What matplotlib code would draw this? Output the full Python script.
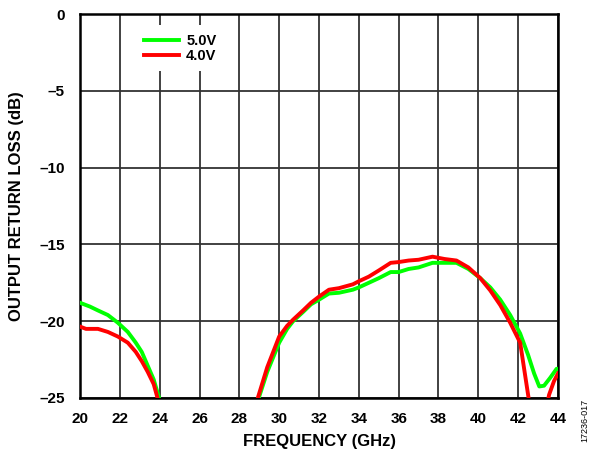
import matplotlib.pyplot as plt
import numpy as np

plt.rcParams['font.family'] = ['Liberation Sans', 'DejaVu Sans']
plt.rcParams['font.weight'] = 'bold'

# output return loss, 5.0 V supply
f_5v = [20.0, 20.5, 20.9, 21.4, 21.9, 22.4, 22.8, 23.1, 23.4, 23.7, 23.95, 24.3,
        28.7, 29.0, 29.4, 30.0, 30.4, 30.7, 31.2, 31.6, 32.0, 32.5, 33.0, 33.7,
        34.0, 34.5, 35.0, 35.6, 36.0, 36.5, 37.0, 37.7, 38.3, 38.9, 39.5, 40.1,
        40.6, 41.1, 41.6, 42.1, 42.5, 42.8, 43.06, 43.3, 43.6, 43.93, 44.0]
rl_5v = [-18.8, -19.05, -19.3, -19.6, -20.1, -20.7, -21.4, -22.0, -22.9, -23.8, -24.9, -26.5,
         -26.5, -24.9, -23.3, -21.4, -20.5, -20.0, -19.4, -18.9, -18.6, -18.2, -18.15, -17.95,
         -17.8, -17.5, -17.2, -16.8, -16.8, -16.6, -16.5, -16.2, -16.2, -16.2, -16.6, -17.2,
         -17.8, -18.6, -19.6, -20.8, -22.2, -23.4, -24.25, -24.2, -23.7, -23.1, -23.1]

# output return loss, 4.0 V supply
f_4v = [20.0, 20.3, 20.9, 21.4, 21.9, 22.4, 22.8, 23.1, 23.4, 23.7, 23.85, 24.2,
        28.6, 28.95, 29.4, 30.0, 30.4, 30.7, 31.2, 31.6, 32.0, 32.5, 33.0, 33.7,
        34.0, 34.5, 35.0, 35.6, 36.0, 36.5, 37.0, 37.7, 38.3, 38.9, 39.5, 40.1,
        40.6, 41.1, 41.6, 42.1, 42.5, 42.7, 43.0, 43.3, 43.55, 43.8, 44.0]
rl_4v = [-20.35, -20.5, -20.5, -20.7, -21.0, -21.4, -22.0, -22.6, -23.3, -24.1, -24.8, -26.5,
         -26.5, -24.9, -23.0, -21.0, -20.3, -19.9, -19.3, -18.8, -18.4, -17.95, -17.85, -17.6,
         -17.4, -17.1, -16.7, -16.2, -16.15, -16.05, -16.0, -15.8, -15.95, -16.05, -16.5, -17.2,
         -18.0, -18.95, -20.1, -21.4, -24.8, -26.5, -27.5, -26.5, -24.8, -23.9, -23.4]

fig = plt.figure(figsize=(5.98, 4.55), dpi=100)
ax = fig.add_axes((0.1338, 0.1253, 0.7993, 0.8439))

ax.plot(f_5v, rl_5v, color='#00ff00', lw=2.8, label='5.0V', zorder=3)
ax.plot(f_4v, rl_4v, color='#ff0000', lw=2.8, label='4.0V', zorder=3)

ax.set_xlim(20, 44)
ax.set_ylim(-25, 0)
ax.set_xticks(np.arange(20, 45, 2))
ax.set_yticks(np.arange(-25, 1, 5))
ax.set_yticklabels(['\u201325', '\u201320', '\u201315', '\u201310', '\u20135', '0'])
ax.grid(True, color='#333333', lw=1.3)
ax.tick_params(length=0, labelsize=11)
ax.tick_params(axis='x', pad=10)
ax.tick_params(axis='y', pad=11)
for s in ax.spines.values():
    s.set_linewidth(1.8)

ax.set_xlabel('FREQUENCY (GHz)', fontsize=12, fontweight='bold', labelpad=6)
ax.set_ylabel('OUTPUT RETURN LOSS (dB)', fontsize=12, fontweight='bold', labelpad=11)

leg = ax.legend(loc='upper left', bbox_to_anchor=(0.1, 0.99), frameon=True,
                fancybox=False, edgecolor='none', framealpha=1, fontsize=10.5,
                handlelength=2.4, handletextpad=0.5, labelspacing=0.05,
                borderpad=0.6)
leg.set_zorder(5)

fig.text(0.978, 0.075, '17236-017', rotation=90, fontsize=6.5,
         fontweight='normal', ha='center', va='center')

fig.savefig('out.png', dpi=100)
